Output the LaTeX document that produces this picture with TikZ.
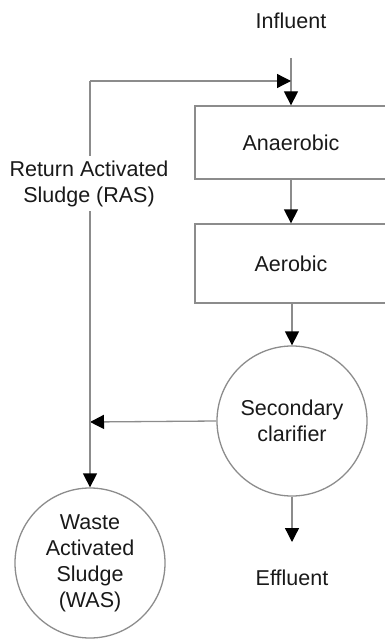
\documentclass[tikz,border=0pt]{standalone}
\usepackage{fontspec}
\setmainfont{Liberation Sans}
\usetikzlibrary{arrows.meta}
\definecolor{linegray}{RGB}{140,140,140}
\definecolor{txt}{RGB}{25,25,25}
\begin{document}
\begin{tikzpicture}[x=1pt,y=-1pt,
  every node/.style={font=\fontsize{21.5}{26}\selectfont, text=txt, align=center},
  boxnode/.style={draw=linegray, line width=1.3pt, rectangle, minimum width=192pt, inner sep=0pt},
  circnode/.style={draw=linegray, line width=1.3pt, circle, minimum size=150pt, inner sep=0pt},
  arr/.style={draw=linegray, line width=1.3pt, -{Triangle[width=14pt,length=14pt,fill=black,color=black]}},
  ln/.style={draw=linegray, line width=1.3pt}]
\useasboundingbox (0,0) rectangle (385,639);
\node (infl) at (291,21) {Influent};
\coordinate (inTop) at (291,58);
\coordinate (inMid) at (291,81);
\coordinate (corner) at (90,81);
\coordinate (jn) at (90,422);
\node[boxnode, minimum height=73pt] (anaer) at (291,142.5) {Anaerobic};
\node[boxnode, minimum height=79pt] (aer) at (291,263.5) {Aerobic};
\node[circnode] (clar) at (292,421) {Secondary\\clarifier};
\node[circnode] (was) at (90,563) {Waste\\Activated\\Sludge\\(WAS)};
\coordinate (effTip) at (292,542);
\node (eff) at (292,578) {Effluent};
\draw[arr] (inTop) -- (anaer.north);
\draw[arr] (anaer.south) -- (aer.north);
\draw[arr] (aer.south -| clar.north) -- (clar.north);
\draw[arr] (clar.west) -- (jn);
\draw[arr] (clar.south) -- (effTip);
\draw[arr] (corner) -- (was.north);
\draw[arr] (corner) -- (inMid);
\node[fill=white, inner sep=4pt] (ras) at (89,183.5) {Return Activated\\Sludge (RAS)};
\end{tikzpicture}
\end{document}
